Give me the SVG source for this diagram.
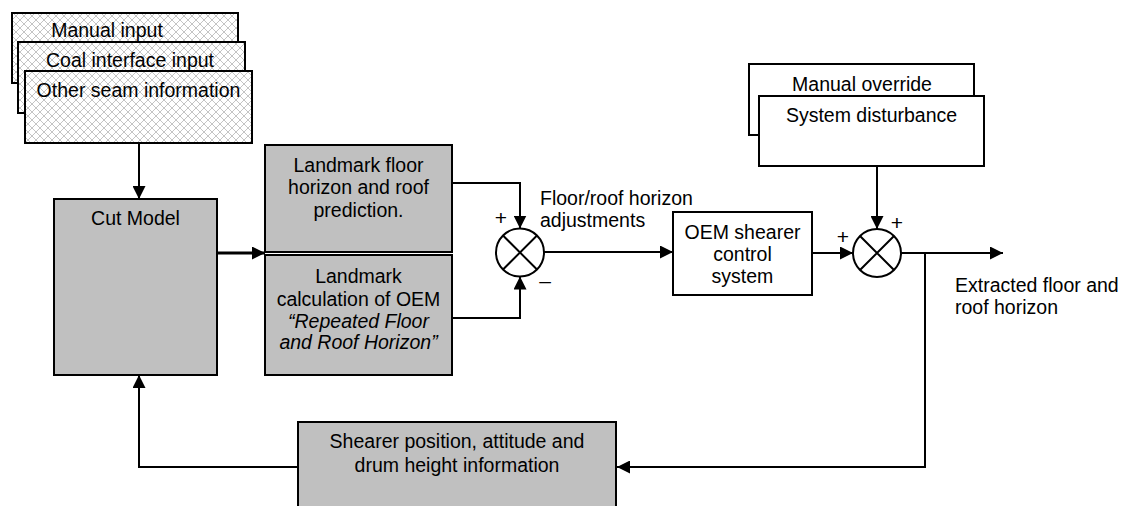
<svg xmlns="http://www.w3.org/2000/svg" width="1125" height="506" viewBox="0 0 1125 506">
  <defs>
    <pattern id="hatch" width="8" height="8" patternUnits="userSpaceOnUse">
      <rect width="8" height="8" fill="#ffffff"/>
      <path d="M0,0 L8,8 M8,0 L0,8" stroke="#c4c4c4" stroke-width="1"/>
    </pattern>
    <marker id="arrow" viewBox="0 0 13 13" refX="13" refY="6.5" markerWidth="13" markerHeight="13" markerUnits="userSpaceOnUse" orient="auto">
      <path d="M0,0 L13,6.5 L0,13 Z" fill="#000"/>
    </marker>
  </defs>
  <style>
    text { font-family: "Liberation Sans", Arial, sans-serif; font-size: 19.5px; fill: #000; }
    .c { text-anchor: middle; }
    .it { font-style: italic; }
    .sign { font-size: 21px; text-anchor: middle; }
    .box { stroke: #000; stroke-width: 2; }
    .grey { fill: #c0c0c0; }
    .white { fill: #ffffff; }
    .hatched { fill: url(#hatch); }
    .wire { fill: none; stroke: #000; stroke-width: 2; }
    .thick { stroke-width: 3; }
    .sum { fill: #fff; stroke: #000; stroke-width: 2; }
  </style>

  <rect width="1125" height="506" fill="#ffffff"/>

  <!-- input stack -->
  <g id="manual-input">
    <rect class="box hatched" x="12" y="13" width="226" height="70"/>
    <text x="107" y="37" class="c">Manual input</text>
  </g>
  <g id="coal-interface-input">
    <rect class="box hatched" x="18" y="42" width="227" height="71"/>
    <text x="130" y="67" class="c">Coal interface input</text>
  </g>
  <g id="other-seam-information">
    <rect class="box hatched" x="25" y="71" width="227" height="72"/>
    <text x="138.5" y="97" class="c">Other seam information</text>
  </g>

  <g id="cut-model">
    <rect class="box grey" x="54" y="199" width="163" height="176"/>
    <text x="135.5" y="225" class="c">Cut Model</text>
  </g>

  <g id="landmark-prediction">
    <rect class="box grey" x="265" y="145" width="187" height="107"/>
    <text x="358.5" y="172" class="c">Landmark floor</text>
    <text x="358.5" y="194" class="c">horizon and roof</text>
    <text x="358.5" y="217" class="c">prediction.</text>
  </g>

  <g id="landmark-calculation">
    <rect class="box grey" x="265" y="255" width="187" height="120"/>
    <text x="358.5" y="283" class="c">Landmark</text>
    <text x="358.5" y="306" class="c">calculation of OEM</text>
    <text x="358.5" y="328" class="c it">“Repeated Floor</text>
    <text x="358.5" y="349" class="c it">and Roof Horizon”</text>
  </g>

  <g id="sum-1">
    <circle class="sum" cx="520" cy="252.5" r="24"/>
    <path class="wire" d="M503,235.5 L537,269.5 M537,235.5 L503,269.5"/>
    <text x="501" y="225" class="sign">+</text>
    <text x="545" y="288" class="sign">–</text>
  </g>

  <g id="adjustments-label">
    <text x="540" y="205">Floor/roof horizon</text>
    <text x="540" y="227">adjustments</text>
  </g>

  <g id="oem-shearer-control">
    <rect class="box white" x="673" y="212" width="139" height="83"/>
    <text x="742.5" y="239" class="c">OEM shearer</text>
    <text x="742.5" y="261" class="c">control</text>
    <text x="742.5" y="283" class="c">system</text>
  </g>

  <g id="manual-override">
    <rect class="box white" x="749" y="64" width="225" height="71"/>
    <text x="862" y="91" class="c">Manual override</text>
  </g>
  <g id="system-disturbance">
    <rect class="box white" x="759" y="96" width="225" height="70"/>
    <text x="871.5" y="122" class="c">System disturbance</text>
  </g>

  <g id="sum-2">
    <circle class="sum" cx="877" cy="253" r="24"/>
    <path class="wire" d="M860,236 L894,270 M894,236 L860,270"/>
    <text x="843" y="244" class="sign">+</text>
    <text x="897" y="230" class="sign">+</text>
  </g>

  <g id="output-label">
    <text x="955" y="292">Extracted floor and</text>
    <text x="955" y="314">roof horizon</text>
  </g>

  <g id="shearer-position">
    <rect class="box grey" x="298" y="422" width="318" height="110"/>
    <text x="457" y="448" class="c">Shearer position, attitude and</text>
    <text x="457" y="472" class="c">drum height information</text>
  </g>

  <!-- connectors -->
  <g id="connectors">
    <path class="wire" d="M139,143 L139,199" marker-end="url(#arrow)"/>
    <path class="wire thick" d="M217,253 L265,253" marker-end="url(#arrow)"/>
    <path class="wire" d="M452,183 L520,183 L520,228.5" marker-end="url(#arrow)"/>
    <path class="wire" d="M452,318 L520,318 L520,276.5" marker-end="url(#arrow)"/>
    <path class="wire" d="M544,252 L673,252" marker-end="url(#arrow)"/>
    <path class="wire" d="M812,253 L853,253" marker-end="url(#arrow)"/>
    <path class="wire" d="M877,166 L877,229" marker-end="url(#arrow)"/>
    <path class="wire" d="M901,253 L1003,253" marker-end="url(#arrow)"/>
    <path class="wire" d="M925,253 L925,467 L617,467" marker-end="url(#arrow)"/>
    <path class="wire" d="M298,467 L139,467 L139,375" marker-end="url(#arrow)"/>
  </g>
</svg>
